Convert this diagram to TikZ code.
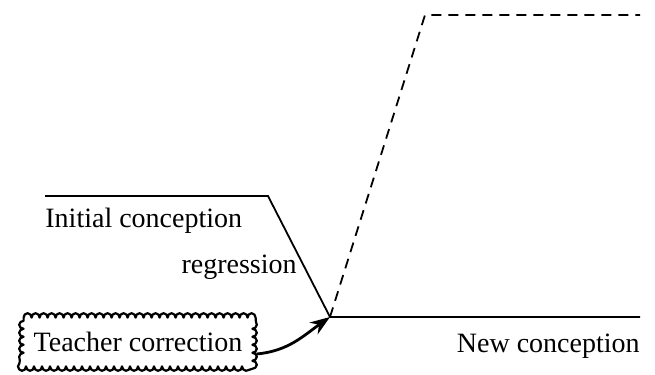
\documentclass[tikz,border=0pt]{standalone}
\usepackage{fontspec}
\setmainfont{Liberation Serif}
\usetikzlibrary{arrows.meta,decorations.pathmorphing}
\tikzset{
  lvl/.style={line width=0.9pt,black},
  hope/.style={line width=0.9pt,black,dash pattern=on 5pt off 3.5pt},
  lbl/.style={font=\fontsize{14}{16}\selectfont,inner sep=0pt},
  puff/.style={lbl,minimum width=114pt,minimum height=24pt},
  bumpy/.style={line width=1.1pt,line join=round,decorate,
    decoration={bumps,segment length=8pt,amplitude=2.2pt}},
  ar/.style={-{Stealth[length=3.5mm,width=2.5mm]},line width=1.4pt}
}
\begin{document}
\begin{tikzpicture}[x=0.5pt,y=-0.5pt]
\useasboundingbox (0,0) rectangle (655,375);
% levels
\coordinate (i0) at (45,196);
\coordinate (i1) at (268,196);
\coordinate (v) at (330,317);
\coordinate (n1) at (640,317);
\coordinate (h0) at (425,15);
\coordinate (h1) at (640,15);
\draw[lvl] (i0) -- (i1) -- (v) -- (n1);
\draw[hope] (v) -- (h0) -- (h1);
% labels
\node[lbl,anchor=west] (init) at (45,221) {Initial conception};
\node[lbl,anchor=east] (reg) at (297,267) {regression};
\node[lbl,anchor=east] (new) at (640,346) {New conception};
\node[puff] (tc) at (138,342) {Teacher correction};
\draw[bumpy] (tc.north west) -- (tc.north east) -- (tc.south east)
  -- (tc.south west) -- cycle;
\draw[ar] (tc.east) ++(4,12) to[out=5,in=215] (v);
\end{tikzpicture}
\end{document}
